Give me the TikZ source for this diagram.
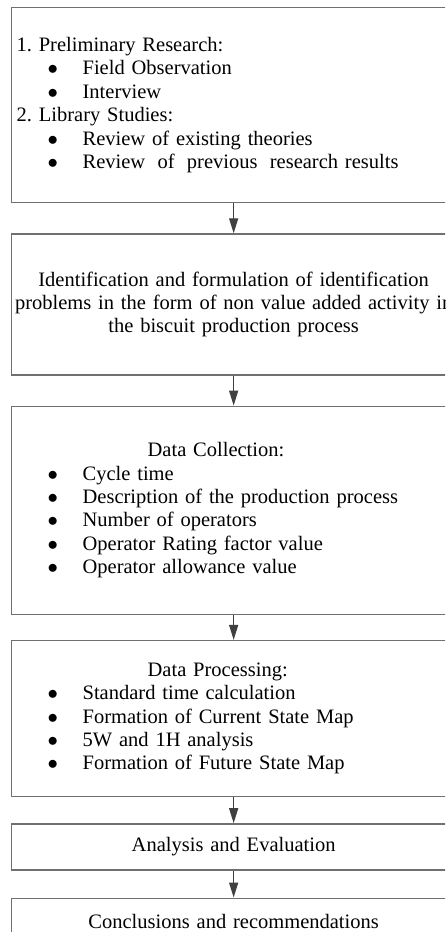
\documentclass[tikz,border=0pt]{standalone}
\usepackage{fontspec}
\setmainfont{Liberation Serif}
\usetikzlibrary{arrows.meta, positioning}
\definecolor{boxgray}{RGB}{112,112,112}
\definecolor{arrowgray}{RGB}{64,64,64}
\newcommand{\bitem}[1]{\makebox[66pt][l]{\hspace{31pt}$\bullet$}#1}

\begin{document}
\begin{tikzpicture}[
    node distance=30pt,
    flowbox/.style={draw=boxgray, line width=1.3pt, minimum width=444pt, text width=434pt, inner xsep=5pt, inner ysep=0pt, font=\fontsize{20.5}{23.4}\selectfont, align=left},
    flowarrow/.style={-{Triangle[length=15pt, width=9pt]}, line width=1.3pt, arrowgray},
  ]
  \useasboundingbox (0,0) rectangle (445pt,-932pt);
  \clip (0,0) rectangle (445pt,-932pt);
  \node[flowbox, minimum height=195pt, anchor=north west] (prelim) at (11pt,-7pt) {1.\ Preliminary Research:\\
    \bitem{Field Observation}\\
    \bitem{Interview}\\
    2.\ Library Studies:\\
    \bitem{Review of existing theories}\\
    \bitem{Review\hspace{0.6em}of\hspace{0.6em}previous\hspace{0.6em}research results}};
  \node[flowbox, minimum height=141pt, align=center, below=30pt of prelim] (ident) {Identification and formulation of identification\\
    \makebox[\linewidth]{problems in the form of non value added activity in}\\
    the biscuit production process};
  \node[flowbox, minimum height=208pt, below=30pt of ident] (collect) {\hspace*{131pt}Data Collection:\\
    \bitem{Cycle time}\\
    \bitem{Description of the production process}\\
    \bitem{Number of operators}\\
    \bitem{Operator Rating factor value}\\
    \bitem{Operator allowance value}};
  \node[flowbox, minimum height=156pt, below=25pt of collect] (process) {\hspace*{131pt}Data Processing:\\
    \bitem{Standard time calculation}\\
    \bitem{Formation of Current State Map}\\
    \bitem{5W and 1H analysis}\\
    \bitem{Formation of Future State Map}};
  \node[flowbox, minimum height=46pt, align=center, below=26pt of process] (analysis) {Analysis and Evaluation};
  \node[flowbox, minimum height=46pt, align=center, below=27pt of analysis] (concl) {Conclusions and recommendations};
  \draw[flowarrow] (prelim) -- (ident);
  \draw[flowarrow] (ident) -- (collect);
  \draw[flowarrow] (collect) -- (process);
  \draw[flowarrow] (process) -- (analysis);
  \draw[flowarrow] (analysis) -- (concl);
\end{tikzpicture}
\end{document}
